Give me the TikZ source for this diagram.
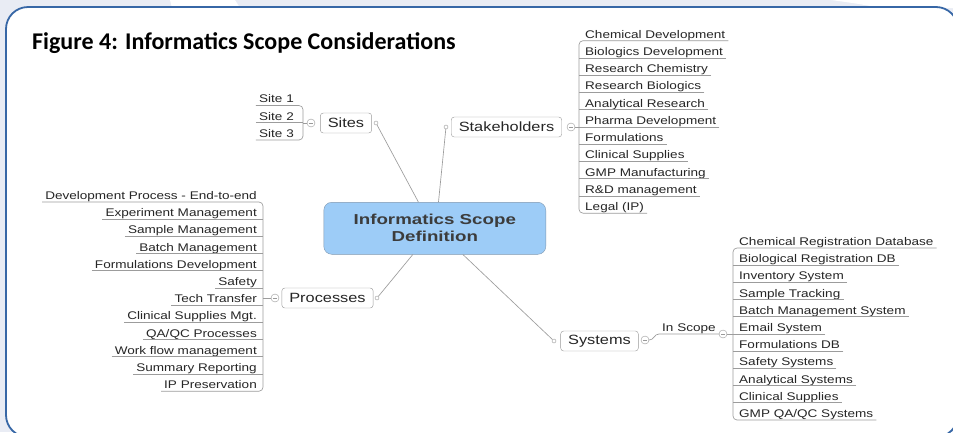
\documentclass[tikz,border=0pt]{standalone}
\usepackage{fontspec}
\usepackage{xcolor}
\setmainfont{Liberation Sans}
\newfontfamily\mapfont[FakeStretch=1.22]{Liberation Sans}
\newfontfamily\hubfont[FakeStretch=1.3]{Liberation Sans}
\newfontfamily\titlefont{Carlito}

\definecolor{framecol}{HTML}{3767A6}
\definecolor{bgtint}{HTML}{E9ECF4}
\definecolor{hubblue}{HTML}{9DCCF7}
\definecolor{hubedge}{HTML}{7F97B0}
\definecolor{hubtext}{HTML}{3C3C3C}
\definecolor{boxgray}{HTML}{999999}
\definecolor{linegray}{HTML}{9C9C9C}
\definecolor{inktext}{HTML}{262626}

\begin{document}
\begin{tikzpicture}[x=1pt,y=-1pt,
        mapline/.style={draw=linegray, line width=0.65pt},
        hub/.style={draw=hubedge, fill=hubblue, rounded corners=8pt, minimum width=222pt,
            minimum height=52pt, align=center, text=hubtext,
            font=\hubfont\bfseries\fontsize{14.4}{17}\selectfont},
        topic/.style={draw=boxgray, fill=white, rounded corners=3pt, minimum height=20pt,
            inner xsep=7.5pt, text=inktext, font=\mapfont\fontsize{13.4}{15}\selectfont},
        leaf/.style={inner xsep=3pt, inner ysep=0pt, text depth=2.4pt, text=inktext,
            font=\mapfont\fontsize{11.1}{13}\selectfont},
        knob/.style={circle, draw=boxgray, fill=white, minimum size=8pt, inner sep=0pt,
            path picture={\draw[boxgray] ([xshift=-2pt]path picture bounding box.center)
                -- ([xshift=2pt]path picture bounding box.center);}},
        dot/.style={circle, draw=boxgray, fill=white, minimum size=4pt, inner sep=0pt}]

    \clip (0,0) rectangle (953,432);
    % page behind the frame
    \fill[bgtint] (0,0) rectangle (953,432);
    \fill[white] (170,0) -- (235,0) -- (240,8) -- (172,8) -- cycle;
    \fill[white] (831,0) .. controls (860,4) .. (880,8) -- (953,8) -- (953,0) -- cycle;
    \draw[framecol, line width=1.8pt, fill=white, rounded corners=22pt] (6,7) rectangle (958,437);

    \node[anchor=base west, inner sep=0pt, font=\titlefont\bfseries\fontsize{24}{28}\selectfont]
        (title) at (32,49.5) {Figure 4: Informatics Scope Considerations};

    % hub and main topics
    \node[hub] (scope) at (434.8,228.3) {Informatics Scope\\Definition};

    \node[topic] (sites) at (346,123) {Sites};
    \node[topic] (stake) at (506.5,127) {Stakeholders};
    \node[topic] (proc) at (327.5,298) {Processes};
    \node[topic] (sys) at (599.5,341) {Systems};

    \node[dot] (sites-d) at (376,123) {};
    \node[dot] (stake-d) at (446,127) {};
    \node[dot] (proc-d) at (377,298) {};
    \node[dot] (sys-d) at (554,341) {};

    \draw[mapline] (sites-d) -- (scope.122);
    \draw[mapline] (stake-d) -- (scope.82);
    \draw[mapline] (proc-d) -- (scope.230);
    \draw[mapline] (sys-d) -- (scope.317);

    \node[knob] (sites-k) at (311,123) {};
    \node[knob] (stake-k) at (571,127) {};
    \node[knob] (proc-k) at (275,298) {};
    \node[knob] (sys-k) at (645,340) {};

    \coordinate (sites-bar) at (303,123);
    \coordinate (stake-bar) at (579,127);
    \coordinate (proc-bar) at (263,298);
    \coordinate (insc-bar) at (733,334);

    % Sites
    \foreach \txt [count=\i from 0] in {Site 1, Site 2, Site 3}
        \node[leaf, anchor=south east] (site-\i) at (297,{105.5+17.25*\i}) {\txt};
    \draw[mapline] (site-1.south west) -- (site-1.south -| sites-bar);
    \draw[mapline, rounded corners=4pt] (site-0.south west) -- (site-0.south -| sites-bar)
        -- (site-2.south -| sites-bar) -- (site-2.south west);
    \draw[mapline] (sites-k) -- (sites-bar);

    % Stakeholders
    \foreach \txt [count=\i from 0] in {Chemical Development, Biologics Development,
            Research Chemistry, Research Biologics, Analytical Research, Pharma Development,
            Formulations, Clinical Supplies, GMP Manufacturing, R\&D management, Legal (IP)}
        \node[leaf, anchor=south west] (sh-\i) at (582,{40.7+17.25*\i}) {\txt};
    \foreach \i in {1,...,9}
        \draw[mapline] (sh-\i.south east) -- (sh-\i.south -| stake-bar);
    \draw[mapline, rounded corners=4pt] (sh-0.south east) -- (sh-0.south -| stake-bar)
        -- (sh-10.south -| stake-bar) -- (sh-10.south east);
    \draw[mapline] (stake-k) -- (stake-bar);

    % Processes
    \foreach \txt [count=\i from 0] in {Development Process - End-to-end, Experiment Management,
            Sample Management, Batch Management, Formulations Development, Safety,
            Tech Transfer, Clinical Supplies Mgt., {QA/QC Processes}, Work flow management,
            Summary Reporting, IP Preservation}
        \node[leaf, anchor=south east] (pr-\i) at (260,{202+17.2*\i}) {\txt};
    \foreach \i in {1,...,10}
        \draw[mapline] (pr-\i.south west) -- (pr-\i.south -| proc-bar);
    \draw[mapline, rounded corners=4pt] (pr-0.south west) -- (pr-0.south -| proc-bar)
        -- (pr-11.south -| proc-bar) -- (pr-11.south west);
    \draw[mapline] (proc-k) -- (proc-bar);

    % Systems
    \node[leaf, anchor=south west] (insc) at (659,334) {In Scope};
    \node[knob] (insc-k) at (723,334) {};
    \draw[mapline] (sys-k.east) .. controls +(5,0) and +(-5,0) .. (insc.south west)
        -- (insc.south east) -- (insc-k);
    \foreach \txt [count=\i from 0] in {Chemical Registration Database, Biological Registration DB,
            Inventory System, Sample Tracking, Batch Management System, Email System,
            Formulations DB, Safety Systems, Analytical Systems, Clinical Supplies,
            {GMP QA/QC Systems}}
        \node[leaf, anchor=south west] (sy-\i) at (736,{248+17.2*\i}) {\txt};
    \foreach \i in {1,...,9}
        \draw[mapline] (sy-\i.south east) -- (sy-\i.south -| insc-bar);
    \draw[mapline, rounded corners=4pt] (sy-0.south east) -- (sy-0.south -| insc-bar)
        -- (sy-10.south -| insc-bar) -- (sy-10.south east);
    \draw[mapline] (insc-k) -- (insc-bar);
\end{tikzpicture}
\end{document}
